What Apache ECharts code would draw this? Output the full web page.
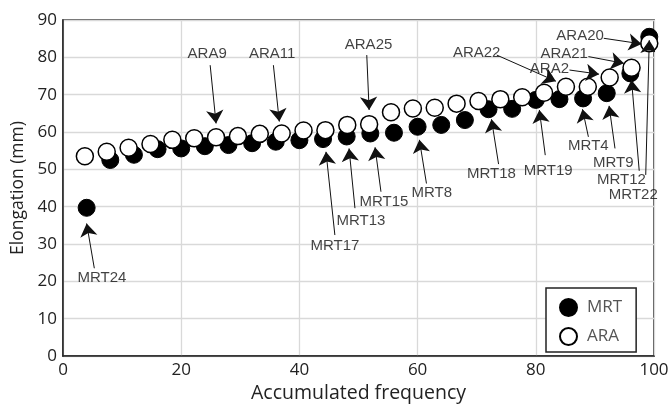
<!DOCTYPE html>
<html>
<head>
<meta charset="utf-8">
<script src="https://cdn.jsdelivr.net/npm/echarts@6/dist/echarts.min.js"></script>
<style>
html,body{margin:0;padding:0;background:#fff;}
#c{width:670px;height:404px;}
</style>
</head>
<body>
<div id="c"></div>
<script>
// ---- data ----
var xTicks = [0, 20, 40, 60, 80, 100];
var mrtX = [4,8,12,16,20,24,28,32,36,40,44,48,52,56,60,64,68,72,76,80,84,88,92,96,99.2];
var mrtY = [39.7,52.5,53.9,55.4,55.6,56.2,56.5,57.0,57.4,57.8,58.1,58.8,59.6,59.8,61.4,61.9,63.2,66.1,66.2,68.6,68.8,69.0,70.4,75.7,85.5];
var araX = [3.7,7.4,11.1,14.8,18.5,22.2,25.9,29.6,33.3,37.0,40.7,44.4,48.1,51.8,55.5,59.2,62.9,66.6,70.3,74.0,77.7,81.4,85.1,88.8,92.5,96.2,99.2];
var araY = [53.5,54.7,55.8,56.8,57.9,58.3,58.6,58.9,59.5,59.6,60.4,60.5,61.9,62.1,65.3,66.3,66.5,67.6,68.3,68.8,69.3,70.5,72.1,72.1,74.6,77.2,83.8];

// annotations: label text, label anchor (data coords), arrow start and arrow tip (data coords)
var annLabels = ['MRT24','ARA9','ARA11','ARA25','MRT17','MRT13','MRT15','MRT8','ARA22','ARA2','ARA21','ARA20','MRT18','MRT19','MRT4','MRT9','MRT12','MRT22'];
var annTextX = [6.6,24.4,35.4,51.7,46.0,50.4,54.3,62.4,70.0,82.3,84.8,87.5,72.5,82.1,88.9,93.1,94.5,96.5];
var annTextY = [20.8,80.8,80.8,83.3,29.5,36.2,41.3,43.8,81.3,77.0,80.8,85.8,48.8,49.6,56.3,51.8,47.1,43.1];
var annFromX = [5.3,24.9,35.6,51.4,46.0,49.4,53.8,61.5,73.4,85.7,88.9,91.5,73.7,81.6,88.9,93.4,97.5,98.6];
var annFromY = [23.5,77.9,77.9,80.6,32.4,39.6,44.0,46.2,80.6,76.6,80.2,85.1,51.4,53.8,58.7,55.6,49.6,48.5];
var annToX = [4.0,25.9,36.6,51.8,44.5,48.4,52.8,60.3,83.4,90.7,94.9,97.9,72.5,80.6,87.9,92.4,96.2,99.2];
var annToY = [35.5,62.3,62.8,65.9,54.7,55.6,55.9,57.9,73.6,75.5,78.4,83.6,63.4,65.9,66.1,67.0,73.9,84.6];

// ---- build ----
function pairs(xs, ys){ return xs.map(function(x,i){ return [x, ys[i]]; }); }
var lineData = annLabels.map(function(n,i){
  return { coords: [[annFromX[i], annFromY[i]], [annToX[i], annToY[i]]] };
});
var labelData = annLabels.map(function(n,i){
  return { name: n, value: [annTextX[i], annTextY[i]] };
});

var chart = echarts.init(document.getElementById('c'));
var axisFont = '"Open Sans", "Liberation Sans", sans-serif';
chart.setOption({
  animation: false,
  backgroundColor: '#fff',
  grid: { left: 63, right: 16, top: 20, bottom: 48, containLabel: false, outerBoundsMode: 'none',
    show: true, borderColor: '#222', borderWidth: 1.5, backgroundColor: 'transparent' },
  xAxis: {
    type: 'value', min: 0, max: 100, interval: 20,
    name: 'Accumulated frequency', nameLocation: 'middle', nameGap: 27,
    nameTextStyle: { fontSize: 19.5, color: '#222', fontFamily: axisFont },
    axisLine: { show: true, lineStyle: { color: '#222', width: 1.5 } },
    axisTick: { show: false },
    axisLabel: { fontSize: 17, color: '#222', fontFamily: axisFont, margin: 6,
      customValues: xTicks },
    splitLine: { show: true, lineStyle: { color: '#d9d9d9', width: 1.3 } }
  },
  yAxis: {
    type: 'value', min: 0, max: 90, interval: 10,
    name: 'Elongation (mm)', nameLocation: 'middle', nameGap: 34,
    nameTextStyle: { fontSize: 17.5, color: '#222', fontFamily: axisFont },
    axisLine: { show: true, lineStyle: { color: '#222', width: 1.5 } },
    axisTick: { show: false },
    axisLabel: { fontSize: 17, color: '#222', fontFamily: axisFont, margin: 6 },
    splitLine: { show: true, lineStyle: { color: '#d9d9d9', width: 1.3 } }
  },
  legend: {
    data: ['MRT', 'ARA'],
    orient: 'vertical', left: 546, top: 288,
    padding: [10, 14, 6, 13],
    itemGap: 10, itemWidth: 17, itemHeight: 17,
    backgroundColor: '#fff', borderColor: '#222', borderWidth: 1.5, borderRadius: 0,
    textStyle: { fontSize: 17, color: '#555', fontFamily: axisFont, padding: [0, 0, 0, 5] },
    icon: 'circle'
  },
  series: [
    {
      name: 'MRT', type: 'scatter', data: pairs(mrtX, mrtY), symbol: 'circle', symbolSize: 17,
      itemStyle: { color: '#000', borderColor: '#000', borderWidth: 1, opacity: 1 }, z: 2
    },
    {
      name: 'ARA', type: 'scatter', data: pairs(araX, araY), symbol: 'circle', symbolSize: 17,
      itemStyle: { color: '#fff', borderColor: '#000', borderWidth: 1.5, opacity: 1 }, z: 3
    },
    {
      name: 'arrows', type: 'lines', coordinateSystem: 'cartesian2d', data: lineData,
      symbol: ['none', 'arrow'], symbolSize: [9, 13],
      lineStyle: { color: '#111', width: 1, opacity: 1, curveness: 0 },
      silent: true, z: 4
    },
    {
      name: 'labels', type: 'scatter', data: labelData, symbolSize: 0, silent: true, z: 5,
      label: { show: true, position: 'inside', formatter: '{b}', color: '#111', fontSize: 15,
        fontFamily: '"Liberation Sans", Arial, sans-serif' }
    }
  ]
});
</script>
</body>
</html>
